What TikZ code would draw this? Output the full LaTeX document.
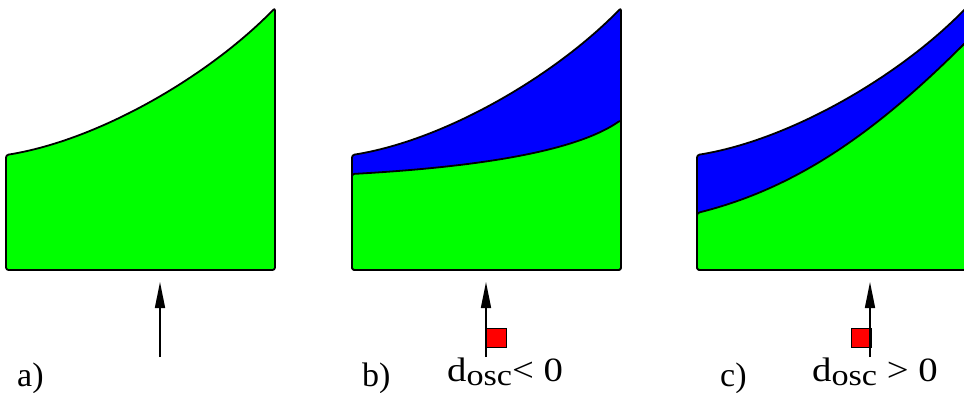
\documentclass[tikz,border=0pt]{standalone}
\usepackage{fontspec}
\setmainfont{Liberation Serif}
\usetikzlibrary{arrows.meta}
\definecolor{xgreen}{RGB}{0,255,0}
\definecolor{xblue}{RGB}{0,0,255}
\definecolor{xred}{RGB}{255,0,0}
\newcommand{\dosc}[1]{\scalebox{1.14}[1]{d\raisebox{-4.5pt}{\fontsize{30}{30}\selectfont osc}#1}}
\begin{document}
\begin{tikzpicture}[x=1pt,y=-1pt,
  outline/.style={draw=black, line width=1.8pt, line join=round, rounded corners=2.5pt},
  ptr/.style={line width=1.6pt, -{Triangle[length=26pt,width=10pt]}},
  flag/.style={draw=black, fill=xred, line width=1.2pt, inner sep=0pt, minimum width=20pt, minimum height=19pt, anchor=north west},
  lbl/.style={anchor=base west, inner sep=0pt, font=\fontsize{34}{36}\selectfont},
  dlbl/.style={anchor=base west, inner sep=0pt, font=\fontsize{34}{36}\selectfont}]
\useasboundingbox (0,0) rectangle (964,393);
% panel a
\path[outline, fill=xgreen] (6,270) -- (6,155) .. controls (100,140) and (210,75) .. (275,8) -- (275,270) -- cycle;
% panel b
\begin{scope}[xshift=346pt]
\path[outline, fill=xblue] (6,270) -- (6,155) .. controls (100,140) and (210,75) .. (275,8) -- (275,270) -- cycle;
\path[outline, fill=xgreen] (6,270) -- (6,174) .. controls (150,166) and (235,148) .. (275,120) -- (275,270) -- cycle;
\end{scope}
% panel c
\begin{scope}[xshift=691pt]
\path[outline, fill=xblue] (6,270) -- (6,155) .. controls (100,140) and (210,75) .. (275,8) -- (275,270) -- cycle;
\path[outline, fill=xgreen] (6,270) -- (6,213) .. controls (106,188) and (185,132) .. (275,42) -- (275,270) -- cycle;
\end{scope}
% arrows and flags
\coordinate (aS) at (160,357); \coordinate (aT) at (160,282);
\draw[ptr] (aS) -- (aT);
\node[flag] (fb) at (486,328) {};
\coordinate (bS) at (486,357); \coordinate (bT) at (486,282);
\draw[ptr] (bS) -- (bT);
\node[flag] (fc) at (851,328) {};
\coordinate (cS) at (870,357); \coordinate (cT) at (870,282);
\draw[ptr] (cS) -- (cT);
% labels
\node[lbl] (la) at (17,386) {a)};
\node[lbl] (lb) at (362,386) {b)};
\node[lbl] (lc) at (720,386) {c)};
\node[dlbl] (db) at (447,381) {\dosc{< 0}};
\node[dlbl] (dc) at (812,381) {\dosc{ > 0}};
\end{tikzpicture}
\end{document}
